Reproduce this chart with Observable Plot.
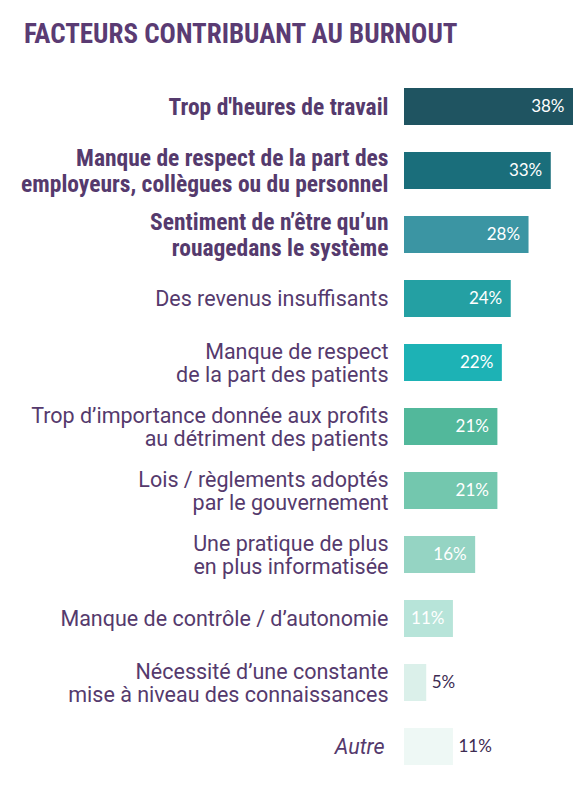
<!DOCTYPE html>
<html>
<head>
<meta charset="utf-8">
<script src="https://cdn.jsdelivr.net/npm/d3@7"></script>
<script src="https://cdn.jsdelivr.net/npm/@observablehq/plot@0.6"></script>
<style>
  body { margin: 0; background: #fff; width: 580px; height: 789px; overflow: hidden; }
  #title { height: 60px; position: relative; }
  #title span { position: absolute; left: 24px; top: 21px; font-family: "Roboto Condensed", "Liberation Sans Narrow", "DejaVu Sans Condensed", Roboto, sans-serif; font-weight: 700; font-size: 27px; color: #5a3b73; white-space: nowrap; line-height: 1; }
  #chart svg { display: block; }
</style>
</head>
<body>
<div id="title"><span>FACTEURS CONTRIBUANT AU BURNOUT</span></div>
<div id="chart"></div>
<script>
const categories = [
  "Trop d'heures de travail",
  "Manque de respect de la part des\nemployeurs, collègues ou du personnel",
  "Sentiment de n’être qu’un\nrouagedans le système",
  "Des revenus insuffisants",
  "Manque de respect\nde la part des patients",
  "Trop d’importance donnée aux profits\nau détriment des patients",
  "Lois / règlements adoptés\npar le gouvernement",
  "Une pratique de plus\nen plus informatisée",
  "Manque de contrôle / d’autonomie",
  "Nécessité d’une constante\nmise à niveau des connaissances",
  "Autre"
];
const values = [38, 33, 28, 24, 22, 21, 21, 16, 11, 5, 11];
const valueLabels = ["38%", "33%", "28%", "24%", "22%", "21%", "21%", "16%", "11%", "5%", "11%"];
const labelStyles = ["bold", "bold", "bold", "regular", "regular", "regular", "regular", "regular", "regular", "regular", "italic"];
const labelInside = [true, true, true, true, true, true, true, true, true, false, false];
const barColors = ["#1f5461", "#1a6e7b", "#3b95a3", "#24a0a3", "#1db2b5", "#52b89b", "#73c7ae", "#95d4c3", "#b7e4d9", "#dbf0ea", "#eef8f5"];

const data = categories.map((c, i) => ({
  cat: c, value: values[i], label: valueLabels[i], style: labelStyles[i], inside: labelInside[i], color: barColors[i]
}));

const purple = "#553a6d";
const chart = Plot.plot({
  width: 580,
  height: 729,
  marginTop: 27,
  marginBottom: 23,
  marginLeft: 404,
  marginRight: 7,
  x: { domain: [0, 38], axis: null },
  y: { domain: categories, axis: null, paddingInner: 0.415, paddingOuter: 0 },
  style: { background: "transparent" },
  marks: [
    Plot.barX(data, { y: "cat", x: "value", fill: "color" }),
    Plot.text(data.filter(d => d.style === "bold"), {
      y: "cat", frameAnchor: "left", dx: -16, text: "cat", textAnchor: "end",
      fill: purple, fontSize: 23.5, fontWeight: 700, lineHeight: 1.1,
      fontFamily: "'Roboto Condensed', Roboto, sans-serif"
    }),
    Plot.text(data.filter(d => d.style === "regular"), {
      y: "cat", frameAnchor: "left", dx: -16, text: "cat", textAnchor: "end",
      fill: purple, fontSize: 21.5, fontWeight: 400, lineHeight: 1.05,
      fontFamily: "Roboto, sans-serif"
    }),
    Plot.text(data.filter(d => d.style === "italic"), {
      y: "cat", frameAnchor: "left", dx: -20, text: "cat", textAnchor: "end",
      fill: purple, fontSize: 21.5, fontStyle: "italic", lineHeight: 1.05,
      fontFamily: "Roboto, sans-serif"
    }),
    Plot.text(data.filter(d => d.inside), {
      y: "cat", x: "value", dx: -9, text: "label", textAnchor: "end",
      fill: "white", fontSize: 17, fontFamily: "Lato, sans-serif", fontWeight: 400
    }),
    Plot.text(data.filter(d => !d.inside), {
      y: "cat", x: "value", dx: 5, text: "label", textAnchor: "start",
      fill: "#3d2b52", fontSize: 17, fontFamily: "Lato, sans-serif", fontWeight: 400
    })
  ]
});
document.getElementById("chart").appendChild(chart);
</script>
</body>
</html>
